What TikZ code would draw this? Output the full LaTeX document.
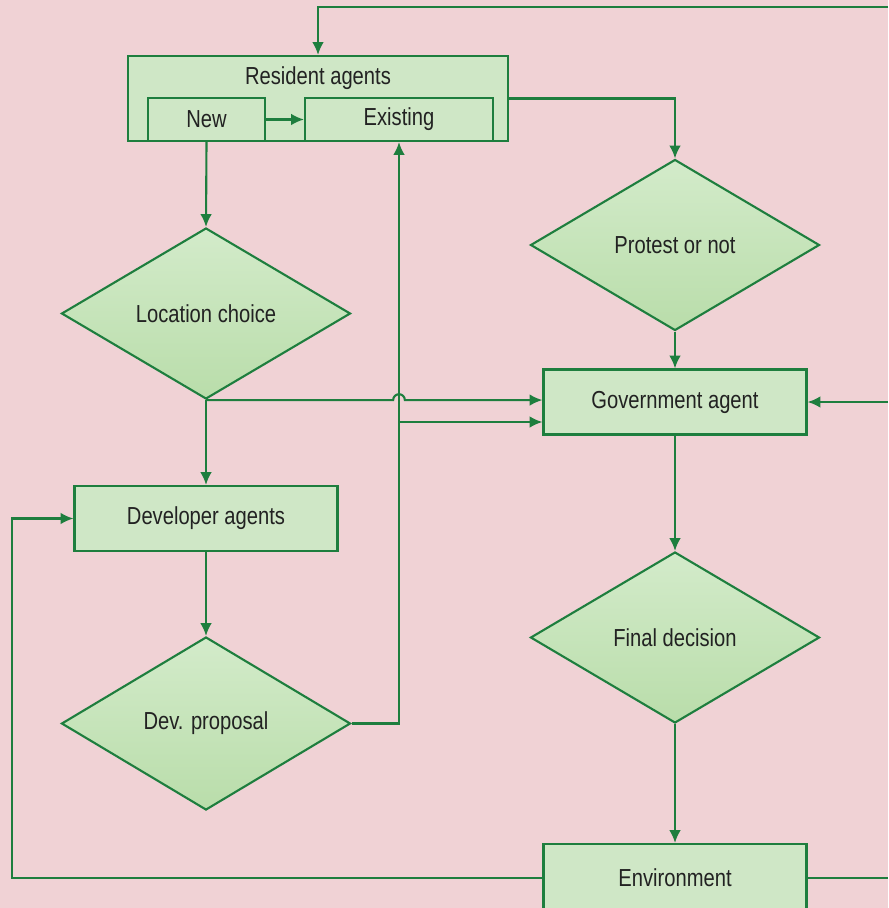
\documentclass[tikz,border=0pt]{standalone}
\usepackage{fontspec}
\setmainfont{Liberation Sans}[FakeStretch=0.82]
\usetikzlibrary{shapes.geometric,arrows.meta}
\definecolor{bgpink}{HTML}{F0D2D5}
\definecolor{boxgreen}{HTML}{CFE7C6}
\definecolor{dtop}{HTML}{D3EBCA}
\definecolor{dbot}{HTML}{B9DDAA}
\definecolor{linegreen}{HTML}{1E7E3E}
\definecolor{txtgray}{HTML}{222222}
\tikzset{
  agentbox/.style={draw=linegreen, line width=1.8pt, fill=boxgreen, minimum width=#1, minimum height=1.95cm, inner sep=0pt},
  agentbox/.default=7.89cm,
  decision/.style={diamond, draw=linegreen, line width=1.8pt, top color=dtop, bottom color=dbot, minimum width=8.67cm, minimum height=5.13cm, inner sep=0pt, aspect=1.7},
  link/.style={draw=linegreen, line width=1.8pt},
  flow/.style={link, -{Latex[length=11pt,width=10pt]}}
}
\begin{document}
\begin{tikzpicture}[x=0.03cm, y=-0.03cm, every node/.style={font=\fontsize{21}{25}\selectfont, text=txtgray}]
        % background
        \useasboundingbox (0,0) rectangle (888,908);
        \fill[bgpink] (0,0) rectangle (888,908);
        % resident agents
        \node[agentbox=11.4cm, minimum height=2.55cm] (res) at (318,98.5) {};
        \node (restitle) at (318,78) {Resident agents};
        \node[agentbox=3.51cm, minimum height=1.29cm] (new) at (206.5,119.5) {New};
        \node[agentbox=5.64cm, minimum height=1.29cm] (exist) at (399,119.5) {Existing};
        % left column
        \node[decision] (loc) at (206,313.5) {Location choice};
        \node[agentbox] (dev) at (206,518.5) {Developer agents};
        \node[decision, minimum height=5.19cm] (prop) at (206,723.5) {Dev. proposal};
        % right column
        \node[decision] (protest) at (675,245) {Protest or not};
        \node[agentbox] (gov) at (675,402) {Government agent};
        \node[decision] (final) at (675,637.5) {Final decision};
        \node[agentbox, minimum height=2.04cm] (env) at (675,878) {Environment};
        % helper points
        \coordinate (topright) at (888,7);
        \coordinate (govin) at (888,402);
        \coordinate (envright) at (888,878);
        \coordinate (loopcorner) at (12,878);
        \coordinate (hop) at (exist.south |- loc.south);
        \coordinate (split) at (exist.south |- 0,422);
        % connectors
        \draw[flow] (new) -- (exist);
        \draw[flow] (topright) -| (res.north);
        \draw[flow] (res.east) -| (protest.north);
        \draw[flow] (protest) -- (gov);
        \draw[flow] (govin) -- (gov.east);
        \draw[flow] (gov) -- (final);
        \draw[flow] (final) -- (env);
        \draw[link] (env.east) -- (envright);
        \draw[flow] (env.west) -- (loopcorner) |- (dev.west);
        \draw[flow] (new.south) -- (loc.north);
        \draw[flow] (loc) -- (dev);
        \draw[flow] (dev) -- (prop);
        \draw[flow] (prop.east) -| (exist.south);
        \draw[flow] (split) -- (split -| gov.west);
        \draw[flow] (loc.south) -- ([xshift=-5pt]hop) arc[start angle=180, end angle=0, radius=5pt] -- (hop -| gov.west);
\end{tikzpicture}
\end{document}
